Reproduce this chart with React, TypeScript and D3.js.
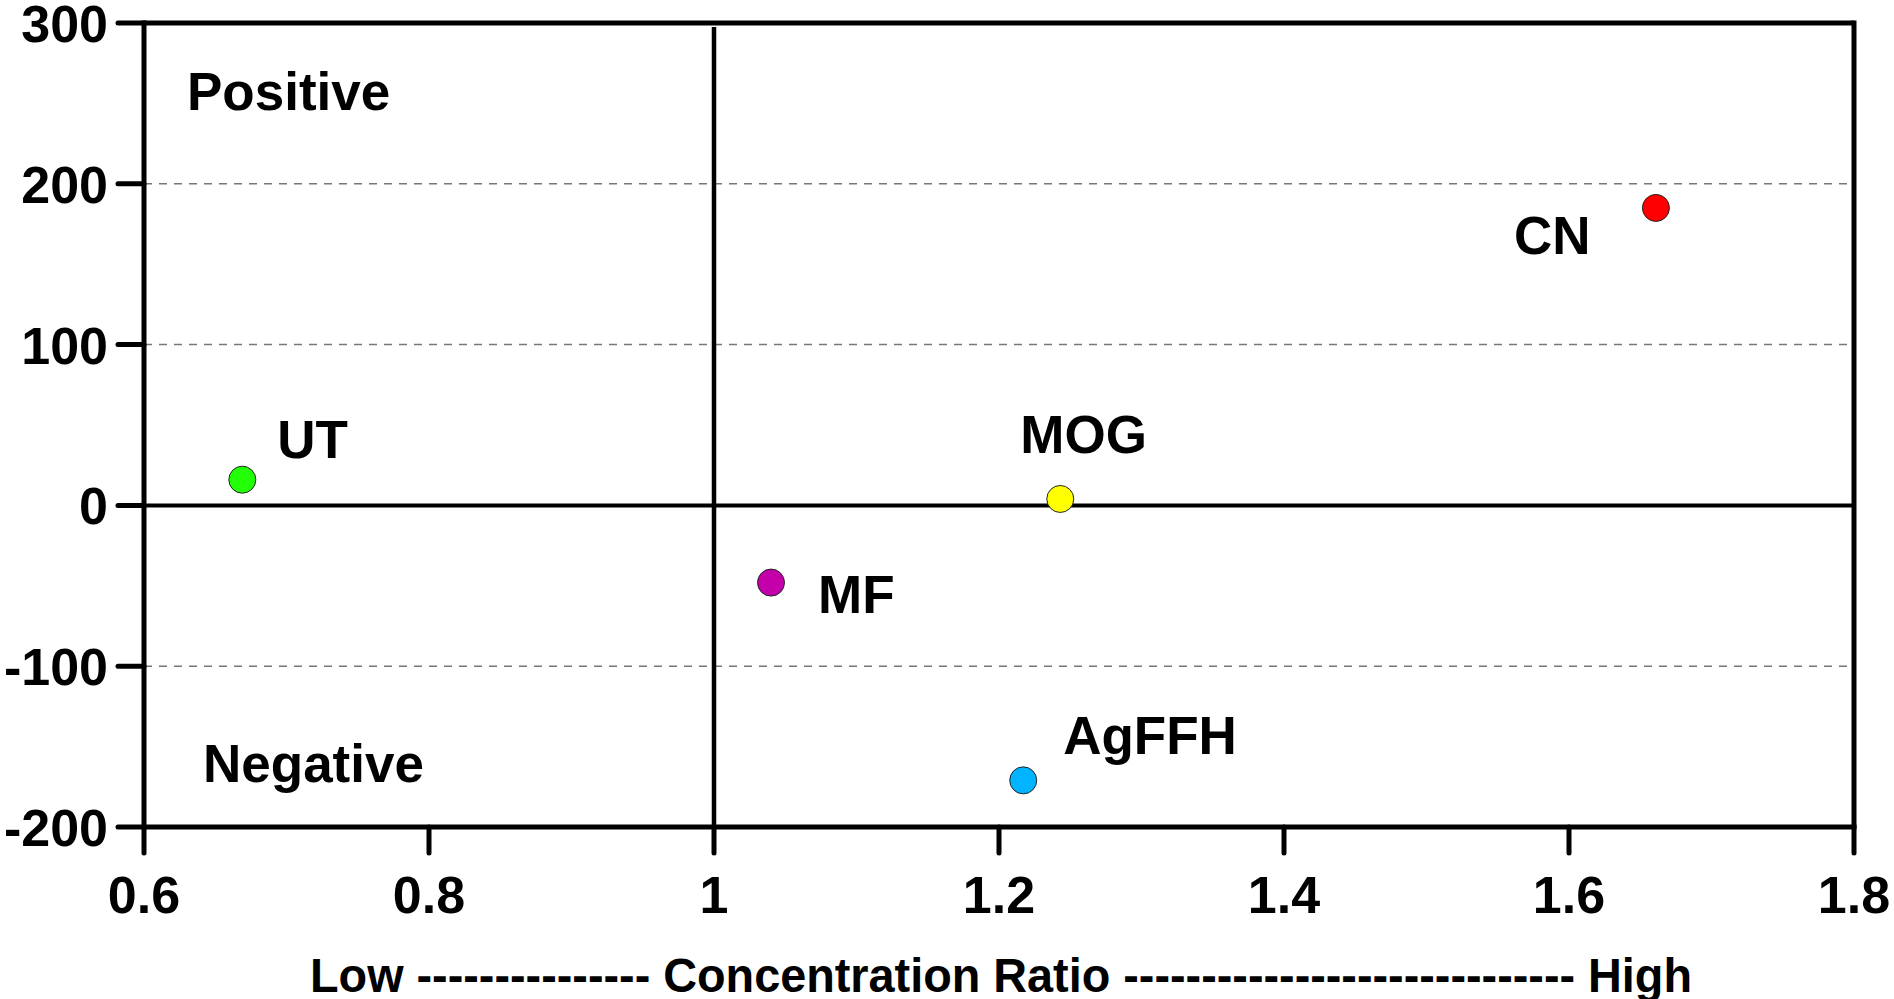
import React from "react";
import * as d3 from "d3";

const categories = ["UT", "MF", "MOG", "AgFFH", "CN"];
const ratioValues = [0.669, 1.04, 1.243, 1.217, 1.661];
const effectValues = [16, -48, 4, -171, 185];
const pointColors = ["#22ff06", "#c400aa", "#ffff00", "#00b4ff", "#ff0000"];
const labelDx = [35, 47, -40, 40, -142];
const labelDy = [-22, 30, -46, -26, 46];

const xTicks = [0.6, 0.8, 1, 1.2, 1.4, 1.6, 1.8];
const xTickLabels = ["0.6", "0.8", "1", "1.2", "1.4", "1.6", "1.8"];
const yTicks = [300, 200, 100, 0, -100, -200];
const yTickLabels = ["300", "200", "100", "0", "-100", "-200"];
const gridValues = [200, 100, -100];

const xTitle = "Low --------------- Concentration Ratio ----------------------------- High";

const W = 1894;
const H = 999;
const font = "'Liberation Sans', Arial, Helvetica, sans-serif";

export default function App() {
  const x = d3.scaleLinear().domain([0.6, 1.8]).range([144, 1854]);
  const y = d3.scaleLinear().domain([-200, 300]).range([827, 23]);
  const [x0, x1] = x.range();
  const [yb, yt] = y.range();

  return (
    <svg
      width={W}
      height={H}
      style={{ position: "absolute", left: 0, top: 0, background: "#fff" }}
      fontFamily={font}
      fontWeight="bold"
    >
      {gridValues.map((v) => (
        <line
          key={"g" + v}
          x1={x0}
          x2={x1}
          y1={y(v)}
          y2={y(v)}
          stroke="#777"
          strokeWidth={1.5}
          strokeDasharray="8,7"
        />
      ))}
      {/* reference lines */}
      <line x1={x0} x2={x1} y1={y(0)} y2={y(0)} stroke="#000" strokeWidth={4} />
      <line x1={x(1)} x2={x(1)} y1={yt + 4} y2={yb} stroke="#000" strokeWidth={4.5} />

      {/* frame */}
      <line x1={x0} x2={x1} y1={yt} y2={yt} stroke="#000" strokeWidth={5} />
      <line x1={x1} x2={x1} y1={yt - 2.5} y2={yb} stroke="#000" strokeWidth={5} />
      <line x1={x0} x2={x0} y1={yt - 2.5} y2={yb + 2.5} stroke="#000" strokeWidth={5} />
      <line x1={x0} x2={x1 + 2.5} y1={yb} y2={yb} stroke="#000" strokeWidth={5} />

      {/* y ticks */}
      {yTicks.map((v, i) => (
        <g key={"yt" + v}>
          <line x1={x0 - 26} x2={x0} y1={y(v)} y2={y(v)} stroke="#000" strokeWidth={5} strokeLinecap="round" />
          <text x={108} y={y(v) + 19} textAnchor="end" fontSize={52} fill="#000">
            {yTickLabels[i]}
          </text>
        </g>
      ))}
      {/* x ticks */}
      {xTicks.map((v, i) => (
        <g key={"xt" + v}>
          <line x1={x(v)} x2={x(v)} y1={yb} y2={yb + 26} stroke="#000" strokeWidth={5} strokeLinecap="round" />
          <text x={x(v)} y={913} textAnchor="middle" fontSize={52} fill="#000">
            {xTickLabels[i]}
          </text>
        </g>
      ))}

      {/* quadrant labels */}
      <text x={187} y={110} fontSize={53} fill="#000">Positive</text>
      <text x={203} y={782} fontSize={53} fill="#000">Negative</text>

      {/* points */}
      {categories.map((c, i) => (
        <g key={c}>
          <circle
            cx={x(ratioValues[i])}
            cy={y(effectValues[i])}
            r={13.5}
            fill={pointColors[i]}
            stroke="#222"
            strokeWidth={1}
          />
          <text
            x={x(ratioValues[i]) + labelDx[i]}
            y={y(effectValues[i]) + labelDy[i]}
            fontSize={53}
            fill="#000"
          >
            {c}
          </text>
        </g>
      ))}

      {/* x title */}
      <text
        x={310}
        y={992}
        fontSize={49}
        fill="#000"
        textLength={1382}
        lengthAdjust="spacingAndGlyphs"
      >
        {xTitle}
      </text>
    </svg>
  );
}
